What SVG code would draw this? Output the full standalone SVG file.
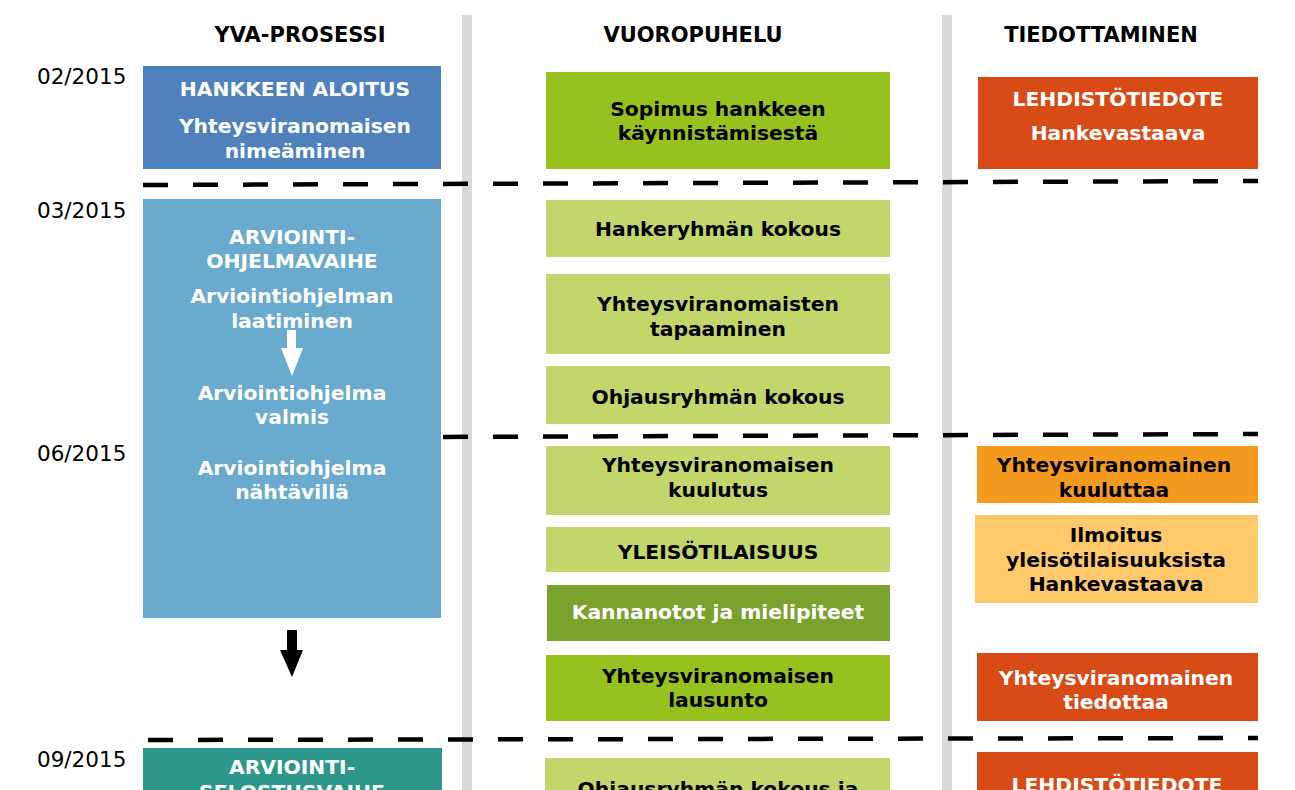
<svg xmlns="http://www.w3.org/2000/svg" width="1295" height="790" viewBox="0 0 1295 790">
<style>
text{font-family:"DejaVu Sans",Verdana,sans-serif;text-anchor:middle}
.h{font-size:21px;font-weight:bold;fill:#000}
.d{font-size:21.5px;fill:#000;text-anchor:start}
.w{font-size:20.3px;font-weight:bold;fill:#fff}
.b{font-size:20.3px;font-weight:bold;fill:#000}
.dash{stroke:#000;stroke-width:4.5;stroke-dasharray:25 25;fill:none}
.vl{fill:#d9d9d9}
</style>
<rect width="1295" height="790" fill="#fff"/>
<g id="lanes">
<rect class="vl" x="462" y="15" width="10" height="775"/>
<rect class="vl" x="942" y="15" width="10" height="775"/>
</g>
<g id="headers">
<text class="h" x="300" y="42">YVA-PROSESSI</text>
<text class="h" x="693" y="42">VUOROPUHELU</text>
<text class="h" x="1101" y="42">TIEDOTTAMINEN</text>
</g>
<g id="dates">
<text class="d" x="37" y="84">02/2015</text>
<text class="d" x="37" y="218">03/2015</text>
<text class="d" x="37" y="461">06/2015</text>
<text class="d" x="37" y="767">09/2015</text>
</g>
<g id="connectors">
<line class="dash" x1="143" y1="185" x2="1258" y2="181"/>
<line class="dash" x1="143" y1="438" x2="1258" y2="434"/>
<line class="dash" x1="148" y1="740" x2="1258" y2="738"/>
<path d="M287 630 H297 V650 H303 L292 677 L280 650 H287 Z" fill="#000"/>
</g>
<g id="n-aloitus">
<rect x="143" y="66" width="298" height="103" fill="#4f81bd"/>
<text class="w" x="295" y="96">HANKKEEN ALOITUS</text>
<text class="w" x="295" y="133">Yhteysviranomaisen</text>
<text class="w" x="295" y="158">nimeäminen</text>
</g>
<g id="n-ohjelmavaihe">
<rect x="143" y="199" width="298" height="419" fill="#6aaacf"/>
<text class="w" x="292" y="244">ARVIOINTI-</text>
<text class="w" x="292" y="268">OHJELMAVAIHE</text>
<text class="w" x="292" y="303">Arviointiohjelman</text>
<text class="w" x="292" y="328">laatiminen</text>
<path d="M287 330 H296 V348 H303 L292 376 L281 348 H287 Z" fill="#fff"/>
<text class="w" x="292" y="400">Arviointiohjelma</text>
<text class="w" x="292" y="424">valmis</text>
<text class="w" x="292" y="475">Arviointiohjelma</text>
<text class="w" x="292" y="499">nähtävillä</text>
</g>
<g id="n-selostusvaihe">
<rect x="143" y="748" width="299" height="50" fill="#2e978c"/>
<text class="w" x="292" y="774">ARVIOINTI-</text>
<text class="w" x="292" y="799">SELOSTUSVAIHE</text>
</g>
<g id="n-sopimus">
<rect x="546" y="72" width="344" height="97" fill="#96c11f"/>
<text class="b" x="718" y="116">Sopimus hankkeen</text>
<text class="b" x="718" y="140">käynnistämisestä</text>
</g>
<g id="n-hankeryhma">
<rect x="546" y="200" width="344" height="57" fill="#c3d66b"/>
<text class="b" x="718" y="236">Hankeryhmän kokous</text>
</g>
<g id="n-tapaaminen">
<rect x="546" y="274" width="344" height="80" fill="#c3d66b"/>
<text class="b" x="718" y="311">Yhteysviranomaisten</text>
<text class="b" x="718" y="336">tapaaminen</text>
</g>
<g id="n-ohjausryhma">
<rect x="546" y="366" width="344" height="58" fill="#c3d66b"/>
<text class="b" x="718" y="404">Ohjausryhmän kokous</text>
</g>
<g id="n-kuulutus">
<rect x="546" y="446" width="344" height="69" fill="#c3d66b"/>
<text class="b" x="718" y="472">Yhteysviranomaisen</text>
<text class="b" x="718" y="497">kuulutus</text>
</g>
<g id="n-yleiso">
<rect x="546" y="527" width="344" height="45" fill="#c3d66b"/>
<text class="b" x="718" y="559">YLEISÖTILAISUUS</text>
</g>
<g id="n-kannanotot">
<rect x="547" y="585" width="343" height="56" fill="#79a22d"/>
<text class="w" x="718" y="619">Kannanotot ja mielipiteet</text>
</g>
<g id="n-lausunto">
<rect x="546" y="655" width="344" height="66" fill="#96c11f"/>
<text class="b" x="718" y="683">Yhteysviranomaisen</text>
<text class="b" x="718" y="707">lausunto</text>
</g>
<g id="n-ohjausryhma2">
<rect x="545" y="758" width="345" height="40" fill="#c3d66b"/>
<text class="b" x="718" y="796">Ohjausryhmän kokous ja</text>
</g>
<g id="n-lehdisto1">
<rect x="978" y="77" width="280" height="92" fill="#d84b16"/>
<text class="w" x="1118" y="106">LEHDISTÖTIEDOTE</text>
<text class="w" x="1118" y="140">Hankevastaava</text>
</g>
<g id="n-kuuluttaa">
<rect x="977" y="446" width="281" height="57" fill="#f39a1f"/>
<text class="b" x="1114" y="472">Yhteysviranomainen</text>
<text class="b" x="1114" y="497">kuuluttaa</text>
</g>
<g id="n-ilmoitus">
<rect x="975" y="515" width="283" height="88" fill="#fec96b"/>
<text class="b" x="1116" y="542">Ilmoitus</text>
<text class="b" x="1116" y="567">yleisötilaisuuksista</text>
<text class="b" x="1116" y="591">Hankevastaava</text>
</g>
<g id="n-tiedottaa">
<rect x="977" y="653" width="281" height="68" fill="#d84b16"/>
<text class="w" x="1116" y="685">Yhteysviranomainen</text>
<text class="w" x="1116" y="709">tiedottaa</text>
</g>
<g id="n-lehdisto2">
<rect x="977" y="752" width="281" height="46" fill="#d84b16"/>
<text class="w" x="1117" y="792">LEHDISTÖTIEDOTE</text>
</g>
</svg>
